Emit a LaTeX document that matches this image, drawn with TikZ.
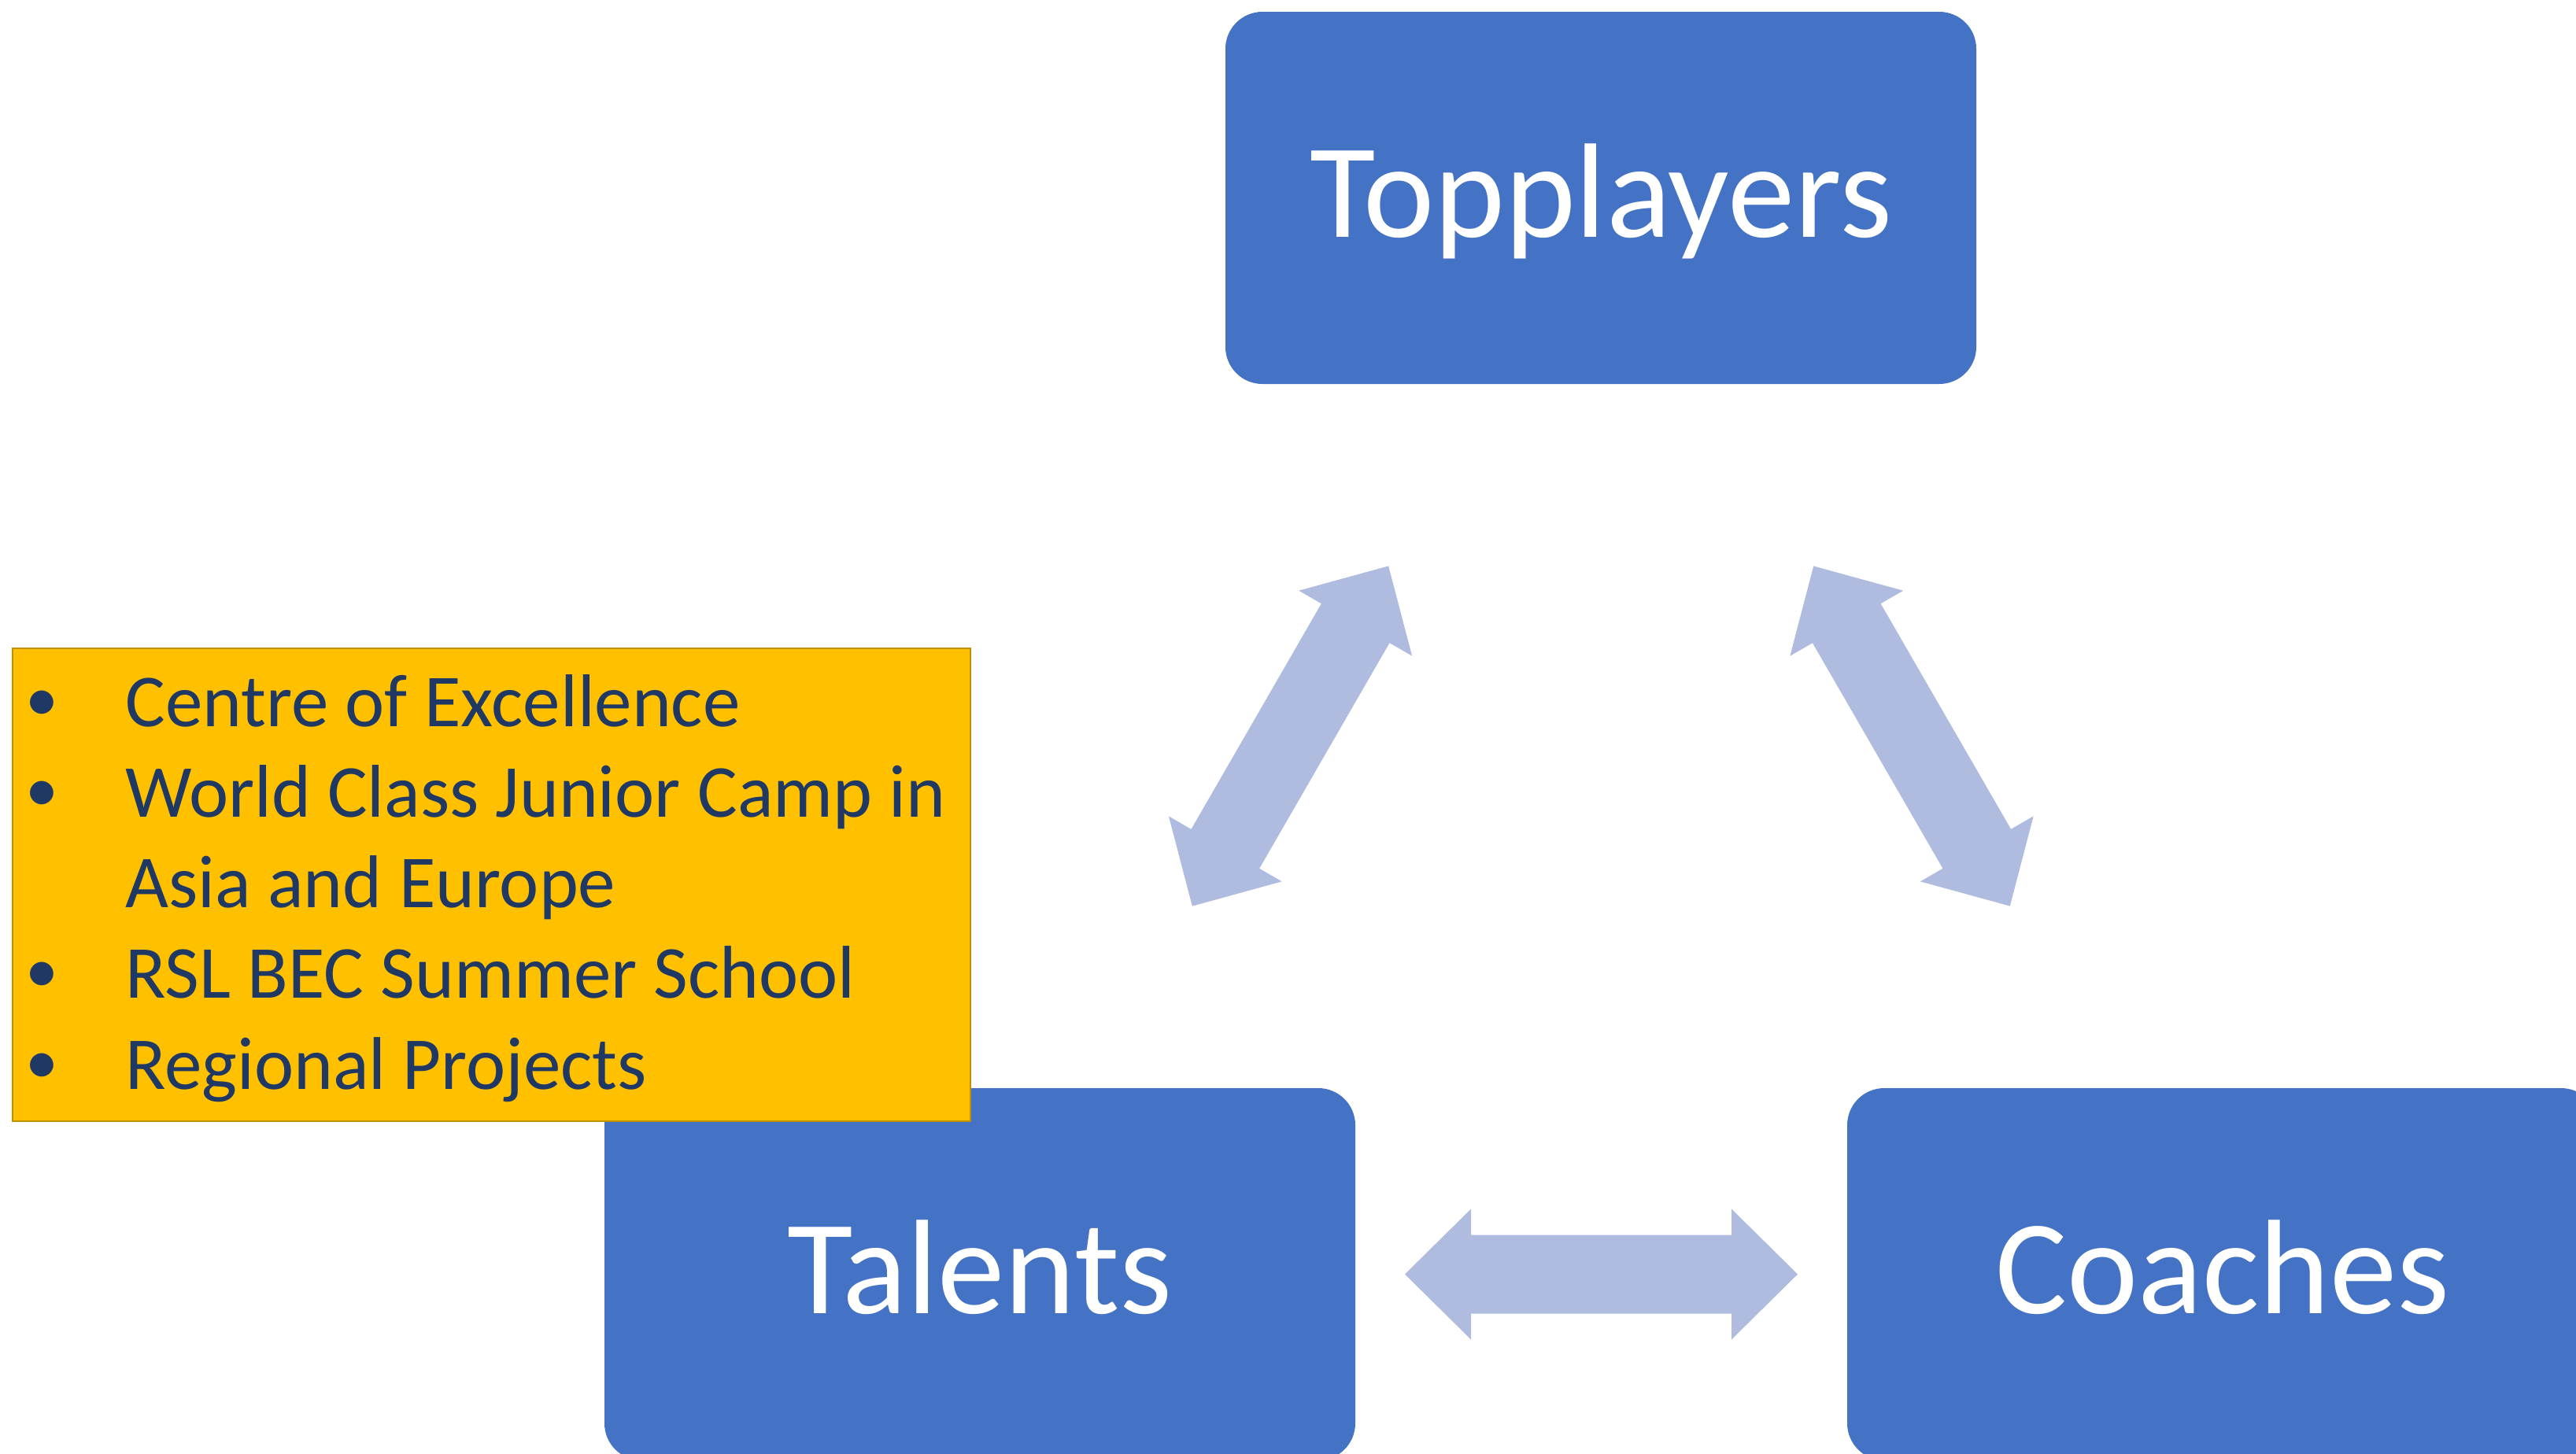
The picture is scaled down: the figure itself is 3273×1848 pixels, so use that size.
\documentclass[tikz,border=0pt]{standalone}
\usepackage{fontspec}
\setmainfont{Carlito}
\usetikzlibrary{calc}
\definecolor{boxblue}{HTML}{4472C4}
\definecolor{arrowblue}{RGB}{175,188,223}
\definecolor{listfill}{HTML}{FFC000}
\definecolor{listdraw}{HTML}{BF9000}
\definecolor{navytext}{HTML}{1F3864}
\newcommand{\bulletmark}{\raisebox{3.5pt}{\fontsize{42}{57.65}\selectfont •}}
\tikzset{
  bluebox/.style={rectangle, rounded corners=23.5pt, fill=boxblue, minimum width=477pt,
    minimum height=236.5pt, inner sep=0pt, text=white,
    font=\fontsize{85.5}{100}\selectfont, text height=49.5pt, text depth=0pt},
  listbox/.style={rectangle, fill=listfill, draw=listdraw, line width=1.2pt,
    minimum width=608.5pt, minimum height=300.5pt, inner sep=0pt},
  listitems/.style={inner sep=0pt, text=navytext, font=\fontsize{47.5}{57.65}\selectfont},
  dblarrow/.pic={\fill[arrowblue] (-249.5,0) -- (-165.5,83) -- (-165.5,50) -- (165.5,50)
    -- (165.5,83) -- (249.5,0) -- (165.5,-83) -- (165.5,-50) -- (-165.5,-50)
    -- (-165.5,-83) -- cycle;}
}
\begin{document}
\begin{tikzpicture}[x=0.5pt,y=-0.5pt]
\clip (0,0) rectangle (3273,1848);
\fill[white] (0,0) rectangle (3273,1848);
\node[bluebox] (top) at (2034,251.5) {Topplayers};
\node[bluebox] (tal) at (1245,1619.5) {Talents};
\node[bluebox] (coa) at (2824,1619.5) {Coaches};
\path (tal.center) -- (top.center) pic[pos=0.5,sloped]{dblarrow};
\path (top.center) -- (coa.center) pic[pos=0.5,sloped]{dblarrow};
\path (tal.center) -- (coa.center) pic[pos=0.5,sloped]{dblarrow};
\node[listbox, anchor=north west] (list) at (15,823) {};
\node[listitems, anchor=base west] (items) at (32,923) {\begin{tabular}[t]{@{}p{63.5pt}@{}l@{}}
\bulletmark&Centre of Excellence\\
\bulletmark&World Class Junior Camp in\\
&Asia and Europe\\
\bulletmark&RSL BEC Summer School\\
\bulletmark&Regional Projects
\end{tabular}};
\end{tikzpicture}
\end{document}
